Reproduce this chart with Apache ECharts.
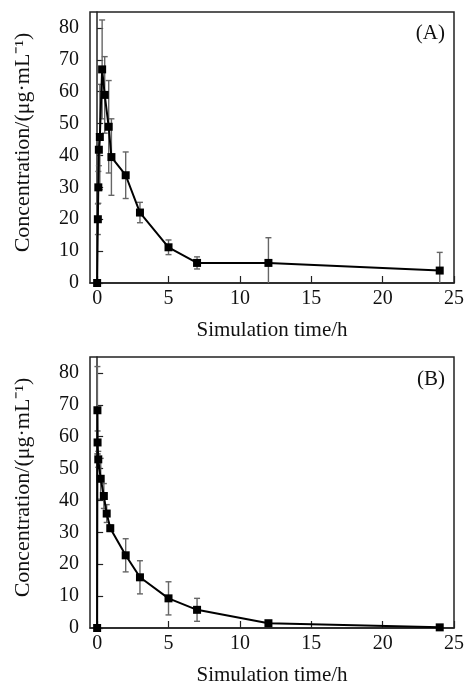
<!DOCTYPE html>
<html>
<head>
<meta charset="utf-8">
<script src="https://cdn.jsdelivr.net/npm/echarts@6/dist/echarts.min.js"></script>
<style>html,body{margin:0;padding:0;background:#fff}#c{width:467px;height:690px}</style>
</head>
<body>
<div id="c"></div>
<script>
const xTicks = [0, 5, 10, 15, 20, 25];
const yTicks = [0, 10, 20, 30, 40, 50, 60, 70, 80];
const xTitle = 'Simulation time/h';
const yTitle = 'Concentration/(μg·mL⁻¹)';

const timesA = [0, 0.05, 0.083, 0.12, 0.19, 0.35, 0.53, 0.81, 1, 2, 3, 5, 7, 12, 24];
const concA  = [0, 20, 30, 41.8, 45.8, 67, 59, 49, 39.5, 33.8, 22.1, 11.2, 6.3, 6.3, 3.9];
const errA   = [0, 4.8, 5, 5, 16.5, 15.5, 12, 14.5, 12, 7.3, 3.2, 2.3, 1.9, 7.9, 5.7];

const timesB = [0, 0.02, 0.03, 0.08, 0.25, 0.47, 0.67, 0.92, 2, 3, 5, 7, 12, 24];
const concB  = [0, 68.3, 58.2, 52.9, 46.8, 41.4, 35.9, 31.3, 22.8, 15.9, 9.3, 5.7, 1.5, 0.2];
const errB   = [0, 13.7, 3.6, 2.5, 6.4, 3.9, 2.8, 1, 5.2, 5.2, 5.2, 3.6, 0.5, 0.3];

const FONT = 'Liberation Serif';
const chart = echarts.init(document.getElementById('c'), null, {renderer: 'canvas'});

function xAxis(gi) {
  return {
    type: 'value', gridIndex: gi, min: -0.5, max: 25,
    name: xTitle, nameLocation: 'middle', nameGap: 37,
    nameTextStyle: {fontFamily: FONT, fontSize: 21, color: '#111'},
    axisLine: {show: true, onZero: false, lineStyle: {color: '#222', width: 1.5}},
    axisTick: {show: true, inside: true, length: 7, customValues: xTicks, lineStyle: {color: '#222', width: 1.2}},
    axisLabel: {customValues: xTicks, fontFamily: FONT, fontSize: 20, color: '#111', margin: 6},
    splitLine: {show: false}
  };
}
function yAxis(gi) {
  return {
    type: 'value', gridIndex: gi, min: 0, max: 85,
    name: yTitle, nameLocation: 'middle', nameGap: 56, nameRotate: 90,
    nameTextStyle: {fontFamily: FONT, fontSize: 22, color: '#111', padding: [0, 0, 0, 10]},
    axisLine: {show: true, lineStyle: {color: '#222', width: 1.5}},
    axisTick: {show: true, inside: true, length: 6, customValues: yTicks, lineStyle: {color: '#222', width: 1.2}},
    axisLabel: {customValues: yTicks, fontFamily: FONT, fontSize: 20, color: '#111', margin: 11},
    splitLine: {show: false}
  };
}
function errData(t, v, e) {
  return t.map((x, i) => [x, Math.max(0, v[i] - e[i]), v[i] + e[i]]);
}
function errSeries(gi, data) {
  return {
    type: 'custom', xAxisIndex: gi, yAxisIndex: gi, z: 1,
    renderItem: function (params, api) {
      if (api.value(2) - api.value(1) < 0.05) return null;
      const top = api.coord([api.value(0), api.value(2)]);
      const bot = api.coord([api.value(0), api.value(1)]);
      const w = 3;
      const st = {stroke: '#666', lineWidth: 1.4, fill: null};
      const kids = [
        {type: 'line', shape: {x1: top[0], y1: top[1], x2: bot[0], y2: bot[1]}, style: st},
        {type: 'line', shape: {x1: top[0] - w, y1: top[1], x2: top[0] + w, y2: top[1]}, style: st}
      ];
      if (api.value(1) > 0) kids.push({type: 'line', shape: {x1: bot[0] - w, y1: bot[1], x2: bot[0] + w, y2: bot[1]}, style: st});
      return {type: 'group', children: kids};
    },
    data: data, clip: false
  };
}
function lineSeries(gi, t, v) {
  return {
    type: 'line', xAxisIndex: gi, yAxisIndex: gi, z: 3,
    data: t.map((x, i) => [x, v[i]]),
    symbol: 'rect', symbolSize: 8, showAllSymbol: true,
    lineStyle: {color: '#000', width: 2},
    itemStyle: {color: '#000'},
    clip: false
  };
}

chart.setOption({
  animation: false,
  backgroundColor: '#fff',
  grid: [
    {left: 90, right: 11, top: 12, height: 271, show: true, borderColor: '#222', borderWidth: 1.5, backgroundColor: 'transparent'},
    {left: 90, right: 11, top: 357, height: 271, show: true, borderColor: '#222', borderWidth: 1.5, backgroundColor: 'transparent'}
  ],
  xAxis: [xAxis(0), xAxis(1)],
  yAxis: [yAxis(0), yAxis(1)],
  graphic: [
    {type: 'text', right: 22, top: 23, style: {text: '(A)', fontFamily: FONT, fontSize: 21, fill: '#111'}},
    {type: 'text', right: 22, top: 369, style: {text: '(B)', fontFamily: FONT, fontSize: 21, fill: '#111'}}
  ],
  series: [
    errSeries(0, errData(timesA, concA, errA)),
    lineSeries(0, timesA, concA),
    errSeries(1, errData(timesB, concB, errB)),
    lineSeries(1, timesB, concB)
  ]
});
</script>
</body>
</html>
